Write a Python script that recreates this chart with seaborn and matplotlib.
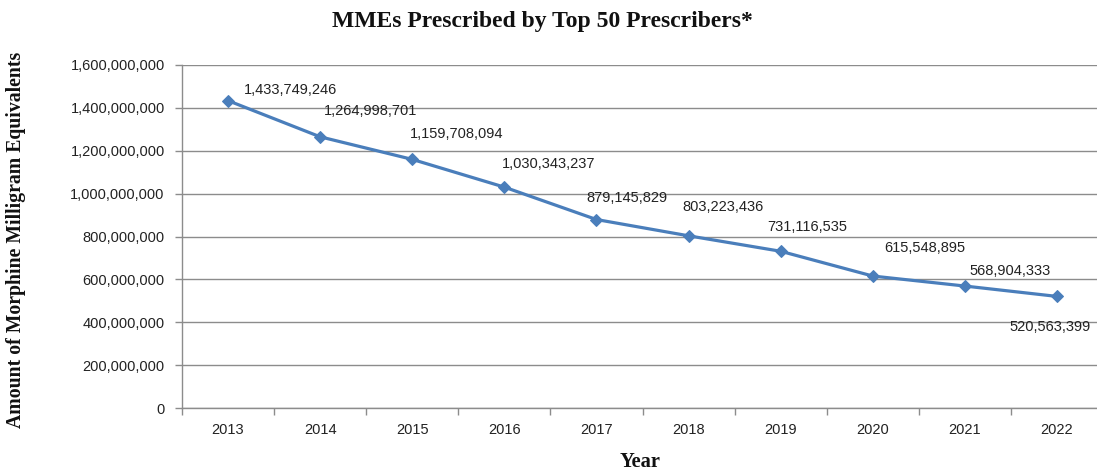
import matplotlib
matplotlib.use("Agg")
import matplotlib.pyplot as plt
import seaborn as sns
import pandas as pd
from matplotlib.ticker import FuncFormatter, FixedLocator

years = ["2013", "2014", "2015", "2016", "2017", "2018", "2019", "2020", "2021", "2022"]
mmes = [1433749246, 1264998701, 1159708094, 1030343237, 879145829,
        803223436, 731116535, 615548895, 568904333, 520563399]
yticks = [0, 200000000, 400000000, 600000000, 800000000, 1000000000,
          1200000000, 1400000000, 1600000000]

# label offsets in pixels (dx right, dy up) relative to each point
label_offsets = [(62, 11), (50, 26), (44, 25), (44, 23), (30, 22),
                 (34, 29), (27, 24), (52, 28), (45, 15), (-7, -31)]

sns.set_theme(style="white")
plt.rcParams['font.family'] = ['Liberation Sans', 'DejaVu Sans']

df = pd.DataFrame({"Year": years, "MME": mmes})

fig = plt.figure(figsize=(10.97, 4.70), dpi=100)
ax = fig.add_axes([182 / 1097, 1 - 408 / 470, (1103 - 182) / 1097, (408 - 65) / 470])

sns.lineplot(data=df, x="Year", y="MME", ax=ax, color="#4A7EBB", linewidth=2.3,
             marker="D", markersize=6.5, markeredgecolor="#4A7EBB", sort=False)

ax.set_xlim(-0.5, len(years) - 0.5)
ax.set_ylim(0, 1600000000)
ax.yaxis.set_major_locator(FixedLocator(yticks))
ax.yaxis.set_major_formatter(FuncFormatter(lambda v, p: f"{int(v):,}"))
ax.grid(axis="y", color="#8c8c8c", linewidth=1)
ax.set_axisbelow(True)

# category tick marks at boundaries
ax.set_xticks(range(len(years)))
ax.set_xticklabels(years)
ax.set_xticks([i - 0.5 for i in range(len(years) + 1)], minor=True)
ax.tick_params(axis="x", which="major", length=0, pad=11, labelsize=10.5, colors="#222222")
ax.tick_params(axis="x", which="minor", length=5, color="#8c8c8c", width=1, direction="out", bottom=True)
ax.tick_params(axis="y", length=5, color="#8c8c8c", width=1, direction="out", left=True,
               labelsize=10.5, colors="#222222", pad=7.5)

for s in ["top", "right"]:
    ax.spines[s].set_visible(False)
for s in ["left", "bottom"]:
    ax.spines[s].set_color("#8c8c8c")
    ax.spines[s].set_linewidth(1)

for i, (v, (dx, dy)) in enumerate(zip(mmes, label_offsets)):
    ax.annotate(f"{v:,}", xy=(i, v), xytext=(dx * 0.72, dy * 0.72), textcoords="offset points",
                ha="center", va="center", fontsize=10.5, color="#222222")

fig.text(542 / 1097, 1 - 22 / 470, "MMEs Prescribed by Top 50 Prescribers*",
         ha="center", va="center", fontsize=17, fontweight="bold", family="Liberation Serif",
         color="#111111")
fig.text(640 / 1097, 1 - 462 / 470, "Year", ha="center", va="center",
         fontsize=14.8, fontweight="bold", family="Liberation Serif", color="#111111")
fig.text(16 / 1097, 1 - 240 / 470, "Amount of Morphine Milligram Equivalents", ha="center",
         va="center", rotation=90, fontsize=14.2, fontweight="bold", family="Liberation Serif",
         color="#111111")
ax.set_xlabel("")
ax.set_ylabel("")

fig.savefig("out.png", dpi=100)
